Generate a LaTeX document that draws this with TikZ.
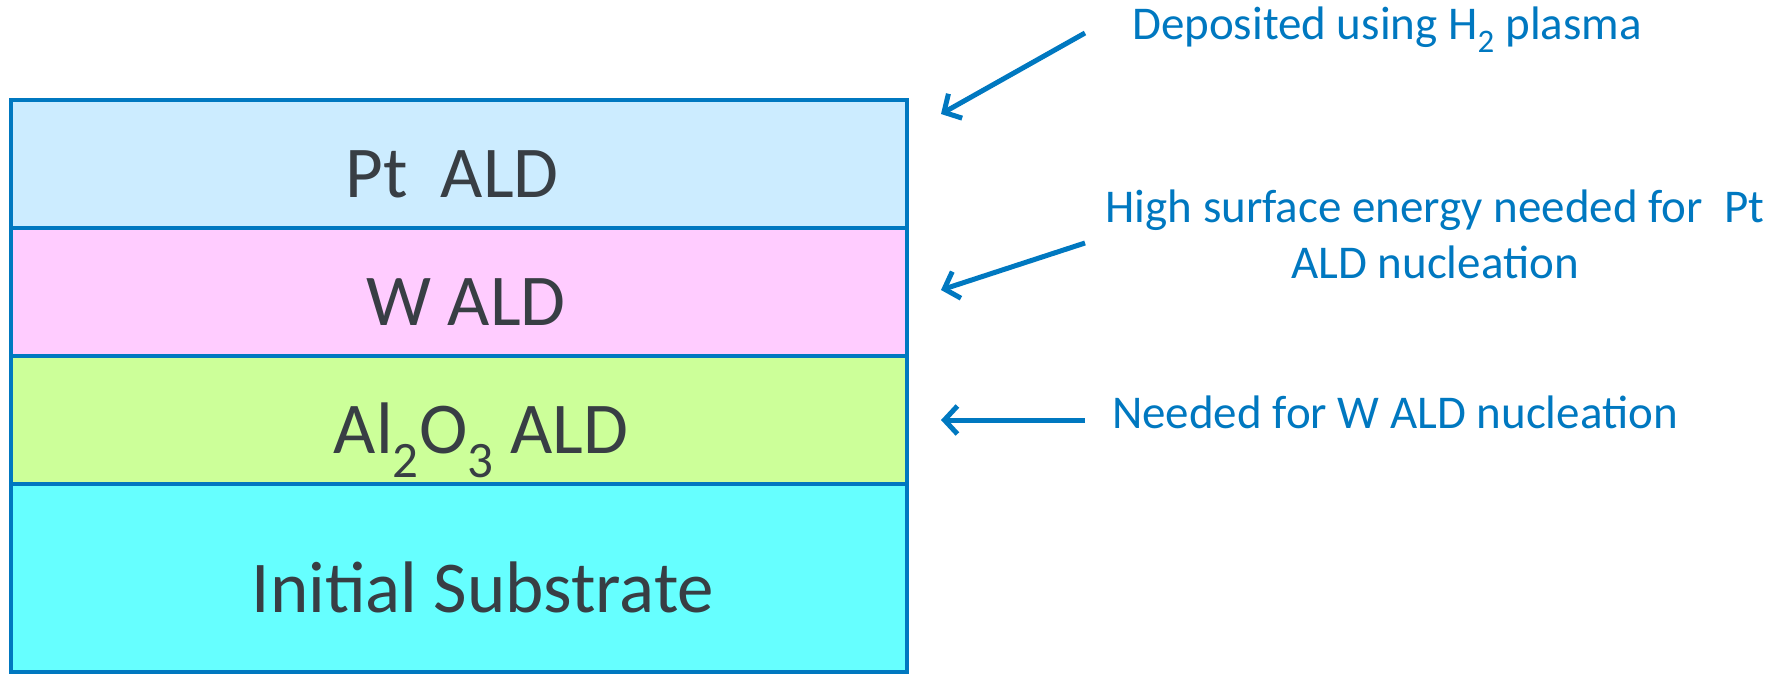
\documentclass[tikz,border=0pt]{standalone}
\usepackage{fontspec}
\setmainfont{Carlito}
\usetikzlibrary{arrows.meta,positioning}
\definecolor{edgeblue}{RGB}{0,120,192}
\definecolor{ptfill}{RGB}{204,236,255}
\definecolor{wfill}{RGB}{255,204,255}
\definecolor{alfill}{RGB}{204,255,153}
\definecolor{subfill}{RGB}{102,255,255}
\definecolor{layerink}{RGB}{56,62,68}

\begin{document}
\begin{tikzpicture}[x=1pt, y=-1pt, >={Straight Barb[length=13pt,width=28pt]},
    layer/.style={draw=edgeblue, line width=4pt, minimum width=896pt, inner sep=0pt},
    layertext/.style={anchor=base, text=layerink, font=\fontsize{73}{88}\selectfont},
    note/.style={anchor=base, text=edgeblue, font=\fontsize{47}{56}\selectfont, align=center},
    pointer/.style={->, draw=edgeblue, line width=5pt}]
    \useasboundingbox (0,0) rectangle (1789,674);
    % the stack
    \node[layer, fill=subfill, minimum height=188pt] (sub) at (459,578) {};
    \node[layer, fill=alfill, minimum height=128pt] (al) at (459,420) {};
    \node[layer, fill=wfill, minimum height=128pt] (w) at (459,292) {};
    \node[layer, fill=ptfill, minimum height=128pt] (pt) at (459,164) {};
    \node[layertext] (ptlabel) at (452,197) {Pt\ \ ALD};
    \node[layertext] (wlabel) at (466,325) {W ALD};
    \node[layertext] (allabel) at (481,453) {Al\textsubscript{2}O\textsubscript{3} ALD};
    \node[layertext] (sublabel) at (483,612) {Initial Substrate};
    % notes on the right
    \node[note] (plasma) at (1387,40) {Deposited using H\textsubscript{2} plasma};
    \node[note] (energy) at (1435,278) {High surface energy needed for\ \ Pt\\ALD nucleation};
    \node[note] (nucl) at (1395,428) {Needed for W ALD nucleation};
    \coordinate (plasmatail) at (1085,33);
    \coordinate (plasmahead) at (941,114);
    \coordinate (energytail) at (1085,243);
    \coordinate (energyhead) at (941,290);
    \coordinate (nucltail) at (1085,420);
    \coordinate (nuclhead) at (941,420);
    \draw[pointer] (plasmatail) -- (plasmahead);
    \draw[pointer] (energytail) -- (energyhead);
    \draw[pointer] (nucltail) -- (nuclhead);
\end{tikzpicture}
\end{document}
